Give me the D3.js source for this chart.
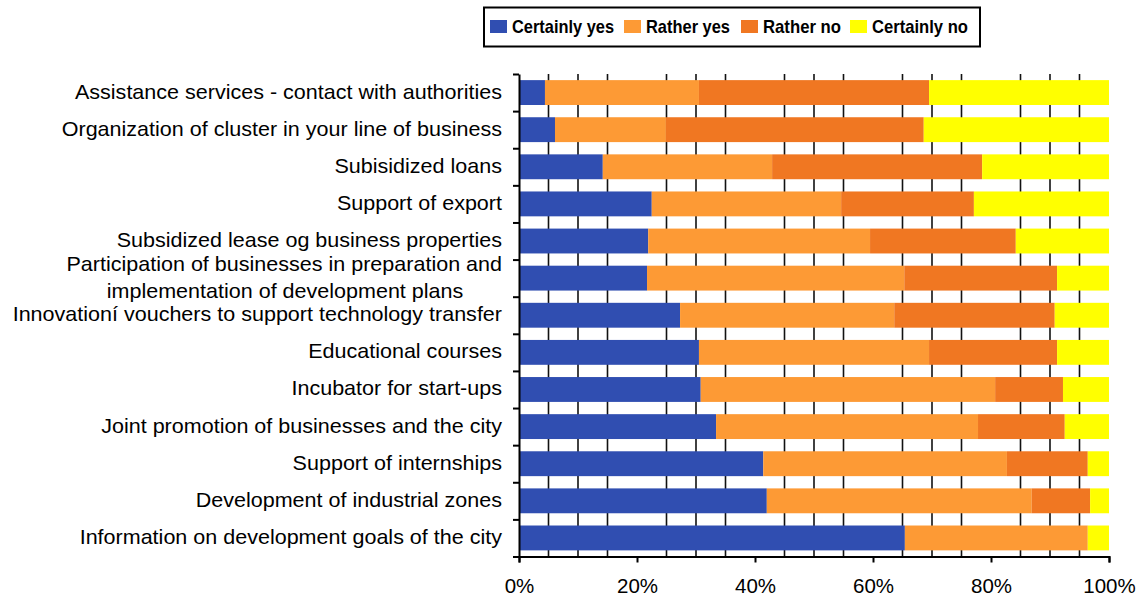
<!DOCTYPE html>
<html>
<head>
<meta charset="utf-8">
<script src="https://cdn.jsdelivr.net/npm/d3@7"></script>
<style>
  html, body { margin: 0; padding: 0; background: #fff; }
  svg { display: block; font-family: "Liberation Sans", Arial, sans-serif; }
</style>
</head>
<body>
<svg id="chart" width="1141" height="597"></svg>
<script>
// Survey answers per support measure (share of respondents, %)
const categories = [
  "Assistance services - contact with authorities",
  "Organization of cluster in your line of business",
  "Subisidized loans",
  "Support of export",
  "Subsidized lease og business properties",
  "Participation of businesses in preparation and\nimplementation of development plans",
  "Innovationí vouchers to support technology transfer",
  "Educational courses",
  "Incubator for start-ups",
  "Joint promotion of businesses and the city",
  "Support of internships",
  "Development of industrial zones",
  "Information on development goals of the city"
];
const seriesNames = ["Certainly yes", "Rather yes", "Rather no", "Certainly no"];
const certainlyYes = [4.4, 6.1, 14.2, 22.5, 21.9, 21.7, 27.3, 30.5, 30.8, 33.4, 41.4, 42.0, 65.4];
const ratherYes    = [26.1, 18.8, 28.7, 32.1, 37.6, 43.6, 36.3, 39.0, 49.9, 44.4, 41.3, 44.9, 31.0];
const ratherNo     = [39.0, 43.7, 35.6, 22.5, 24.7, 25.9, 27.2, 21.7, 11.5, 14.7, 13.7, 9.9, 0.0];
const certainlyNo  = [30.5, 31.4, 21.5, 22.9, 15.8, 8.8, 9.2, 8.8, 7.8, 7.5, 3.6, 3.2, 3.6];
const xTicks = [0, 20, 40, 60, 80, 100];
const colors = ["#304EB1", "#FD9A35", "#F07722", "#FFFF00"];

const svg = d3.select("#chart");
const plot = { left: 519, right: 1109, top: 74, bottom: 556.5 };

const rows = categories.map((c, i) => ({
  cat: c,
  [seriesNames[0]]: certainlyYes[i],
  [seriesNames[1]]: ratherYes[i],
  [seriesNames[2]]: ratherNo[i],
  [seriesNames[3]]: certainlyNo[i]
}));

const x = d3.scaleLinear().domain([0, 100]).range([plot.left, plot.right]);
const y = d3.scaleBand().domain(categories).range([plot.top, plot.bottom])
  .paddingInner(0.33).paddingOuter(0.165);

// minor vertical grid lines every 5% (skipping the labelled 20% steps)
const grid = d3.range(5, 100, 5).filter(v => v % 20 !== 0);
svg.append("g").selectAll("line").data(grid).join("line")
  .attr("x1", d => x(d)).attr("x2", d => x(d))
  .attr("y1", plot.top).attr("y2", plot.bottom)
  .attr("stroke", "#111").attr("stroke-width", 1.6);

// stacked bars
const stacked = d3.stack().keys(seriesNames)(rows);
svg.append("g").selectAll("g").data(stacked).join("g")
  .attr("fill", (d, i) => colors[i])
  .selectAll("rect").data(d => d).join("rect")
  .attr("x", d => x(d[0]))
  .attr("width", d => Math.max(0, x(d[1]) - x(d[0])))
  .attr("y", d => y(d.data.cat))
  .attr("height", y.bandwidth());

// x axis
const xAxis = svg.append("g")
  .attr("transform", `translate(0,${plot.bottom})`)
  .call(d3.axisBottom(x).tickValues(xTicks).tickFormat(d => d + "%").tickSize(6).tickPadding(16));
xAxis.select(".domain").attr("stroke", "#000").attr("stroke-width", 2);
xAxis.selectAll(".tick line").attr("stroke", "#000").attr("stroke-width", 2);
xAxis.selectAll("text").attr("font-size", 20.5).attr("fill", "#000")
  .attr("font-family", "Liberation Sans, Arial, sans-serif");

// y axis: tick marks at category boundaries
const yEdges = d3.scaleLinear().domain([0, categories.length]).range([plot.top, plot.bottom]);
const yAxis = svg.append("g")
  .attr("transform", `translate(${plot.left},0)`)
  .call(d3.axisLeft(yEdges).tickValues(d3.range(categories.length + 1)).tickFormat("").tickSize(6).tickSizeOuter(0));
yAxis.select(".domain").attr("stroke", "#000").attr("stroke-width", 2);
yAxis.selectAll(".tick line").attr("stroke", "#000").attr("stroke-width", 2);

// category labels (slightly wide lettering)
const stretch = 1.11;
const labelG = svg.append("g").attr("transform", `translate(502,0) scale(${stretch},1)`);
const labels = labelG.selectAll("text").data(categories).join("text")
  .attr("y", d => y(d) + y.bandwidth() / 2)
  .attr("font-size", 19.4)
  .attr("fill", "#000");
labels.each(function(d) {
  const lines = d.split("\n");
  const t = d3.select(this);
  const lh = 27;
  lines.forEach((ln, i) => {
    t.append("tspan")
      .attr("x", i === 0 ? 0 : (285 - 502) / stretch)
      .attr("dy", i === 0 ? (-(lines.length - 1) * lh / 2 + 6) : lh)
      .attr("text-anchor", i === 0 ? "end" : "middle")
      .text(ln);
  });
});

// legend
const legend = svg.append("g");
legend.append("rect")
  .attr("x", 484).attr("y", 7.5).attr("width", 496).attr("height", 39)
  .attr("fill", "#fff").attr("stroke", "#000").attr("stroke-width", 2);
const legendX = [490, 624, 741, 850];
const legendW = [102, 84, 78, 96];
seriesNames.forEach((name, i) => {
  legend.append("rect")
    .attr("x", legendX[i]).attr("y", 20).attr("width", 17).attr("height", 13)
    .attr("fill", colors[i]);
  legend.append("text")
    .attr("x", legendX[i] + 22).attr("y", 33)
    .attr("font-size", 19).attr("font-weight", "bold").attr("fill", "#000")
    .attr("textLength", legendW[i]).attr("lengthAdjust", "spacingAndGlyphs")
    .text(name);
});
</script>
</body>
</html>
